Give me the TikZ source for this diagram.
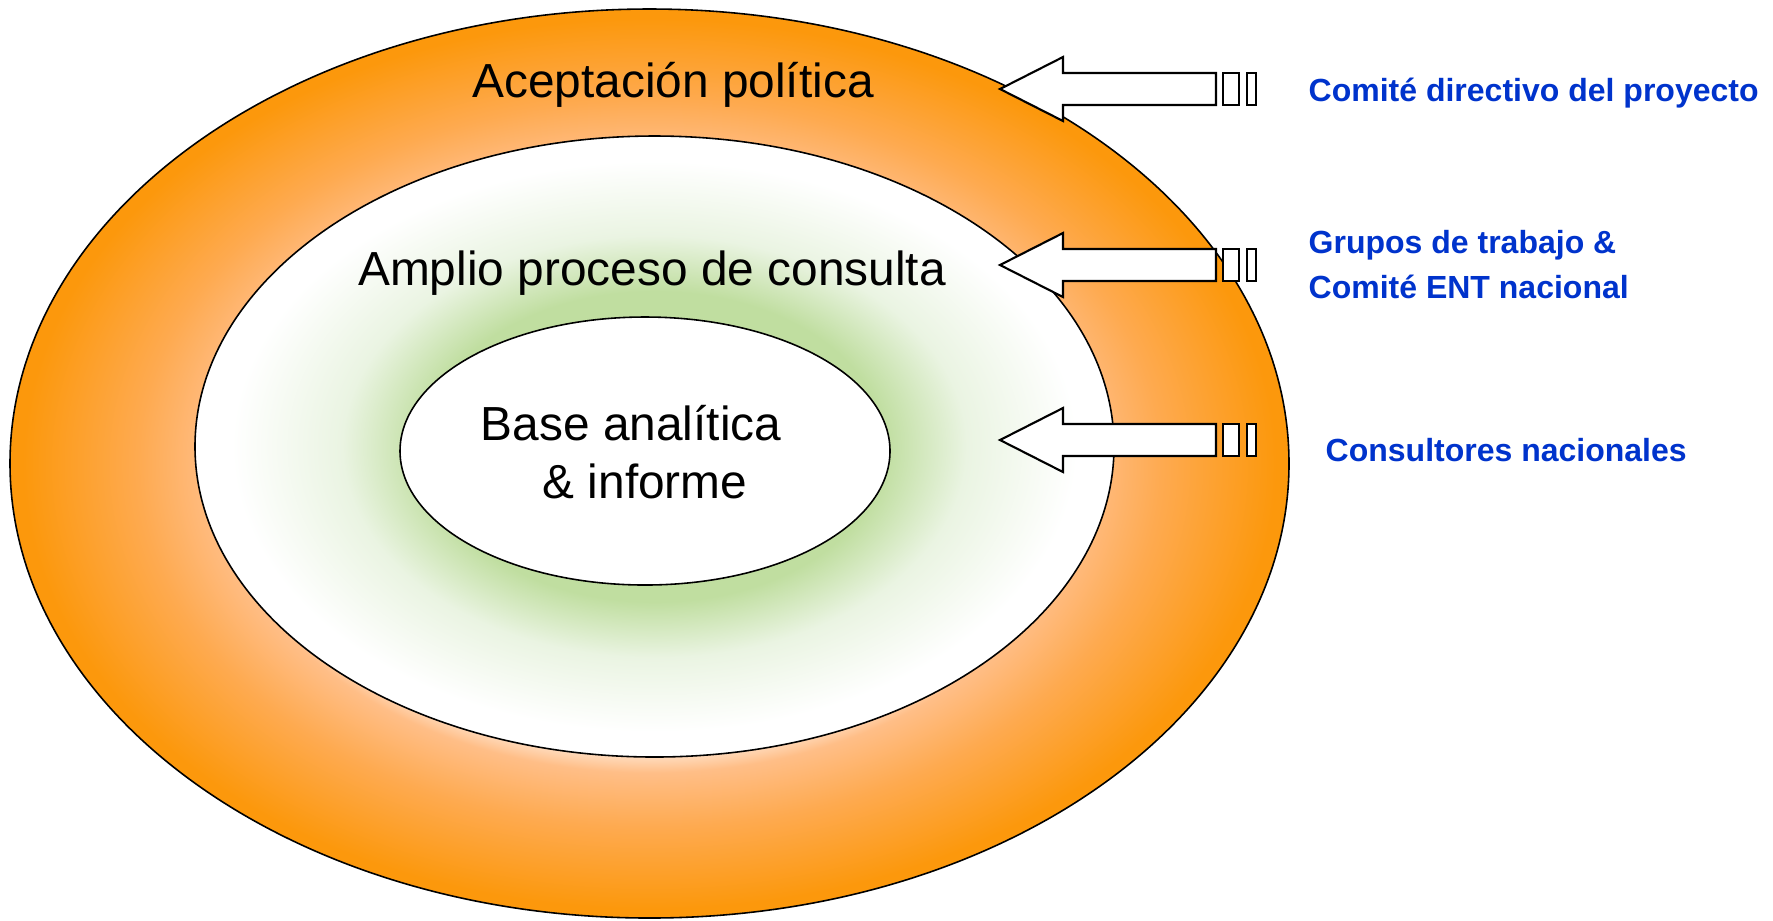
\documentclass[tikz,border=0pt]{standalone}
\usepackage{fontspec}
\setmainfont{Liberation Sans}
\definecolor{ringorange}{RGB}{252,152,12}
\definecolor{ringmid}{RGB}{254,170,80}
\definecolor{ringpeach}{RGB}{255,190,135}
\definecolor{halogreen}{RGB}{192,222,160}
\definecolor{halolight}{RGB}{234,244,226}
\definecolor{labelblue}{RGB}{0,51,204}
\pgfdeclareradialshading{ringshade}{\pgfpoint{0bp}{0bp}}{color(0bp)=(white); color(15bp)=(white); color(17bp)=(ringpeach); color(20bp)=(ringmid); color(24.5bp)=(ringorange); color(50bp)=(ringorange)}
\pgfdeclareradialshading{haloshade}{\pgfpoint{0bp}{0bp}}{color(0bp)=(halogreen); color(12.5bp)=(halogreen); color(17bp)=(halolight); color(23bp)=(white); color(50bp)=(white)}
\tikzset{
  outline/.style={draw=black, line width=0.45pt},
  bigtext/.style={font=\fontsize{13.6pt}{16.5pt}\selectfont, inner sep=0pt},
  bluetext/.style={font=\fontsize{9.1pt}{11pt}\selectfont\bfseries, text=labelblue, inner sep=0pt, anchor=base west},
  arrowbox/.style={draw=black, fill=white, line width=0.6pt}
}
\begin{document}
\begin{tikzpicture}[x=0.01cm, y=-0.01cm]
\useasboundingbox (0,0) rectangle (1773,920);
% ellipses
\coordinate (oc) at (649.5,463.5);
\coordinate (mc) at (654.5,446.5);
\coordinate (ic) at (645,451);
\path[outline, shading=ringshade] (oc) ellipse [x radius=639.5, y radius=454.5];
\path[outline, shading=haloshade] (mc) ellipse [x radius=459.5, y radius=310.5];
\path[outline, fill=white] (ic) ellipse [x radius=245, y radius=134];
% ring labels
\node[bigtext, anchor=base] (acep) at (673,97) {Aceptación política};
\node[bigtext, anchor=base] (amplio) at (652,285) {Amplio proceso de consulta};
\node[bigtext, anchor=base] (base1) at (631,440) {Base analítica};
\node[bigtext, anchor=base] (base2) at (645,498) {\& informe};
% arrows
\foreach \yy/\nm in {89/a1, 265/a2, 440/a3}{
  \draw[arrowbox] (1000,\yy) -- (1063,\yy-32) -- (1063,\yy-16) -- (1216,\yy-16)
     -- (1216,\yy+16) -- (1063,\yy+16) -- (1063,\yy+32) -- cycle;
  \draw[arrowbox] (1223,\yy-16) rectangle (1239,\yy+16);
  \draw[arrowbox] (1247,\yy-16) rectangle (1256,\yy+16);
}
% blue labels
\node[bluetext] (l1) at (1308,101) {Comité directivo del proyecto};
\node[bluetext] (l2) at (1308,253) {Grupos de trabajo \&};
\node[bluetext] (l3) at (1308,298) {Comité ENT nacional};
\node[bluetext] (l4) at (1325,461) {Consultores nacionales};
\end{tikzpicture}
\end{document}
